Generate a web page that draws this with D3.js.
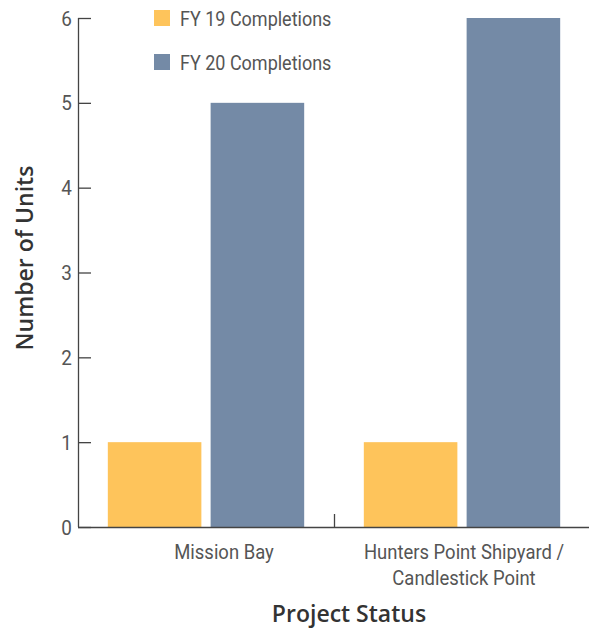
<!DOCTYPE html>
<html><head><meta charset="utf-8">
<script src="https://cdn.jsdelivr.net/npm/d3@7"></script>
<style>
body{margin:0;background:#fff;}
svg{display:block;}
</style></head>
<body><svg id="c" width="589" height="628"></svg>
<script>
const categories = ["Mission Bay", "Hunters Point Shipyard / Candlestick Point"];
const categoryLines = [["Mission Bay"], ["Hunters Point Shipyard /", "Candlestick Point"]];
const seriesNames = ["FY 19 Completions", "FY 20 Completions"];
const fy19 = [1, 1];
const fy20 = [5, 6];
const yTicks = [0, 1, 2, 3, 4, 5, 6];
const colors = ["#FEC45B", "#748AA6"];

const svg = d3.select("#c");
const SX = 0.9;
function condText(parent, x, y, txt, anchor, size) {
  return parent.append("text")
    .attr("transform", `translate(${x},${y}) scale(${SX},1)`)
    .attr("text-anchor", anchor || "start")
    .attr("font-family", "Roboto, sans-serif")
    .attr("font-size", size || 21)
    .attr("fill", "#555")
    .text(txt);
}

const x0 = d3.scaleBand().domain(categories).range([78, 590]).paddingInner(0).paddingOuter(0);
const x1 = d3.scaleBand().domain(seriesNames).range([0, x0.bandwidth()]).paddingInner(0.09).paddingOuter(0.29);
const y = d3.scaleLinear().domain([0, 6]).range([527, 18]);

// bars
const series = [fy19, fy20];
categories.forEach((c, ci) => {
  seriesNames.forEach((s, si) => {
    const v = series[si][ci];
    svg.append("rect")
      .attr("x", x0(c) + x1(s))
      .attr("y", y(v))
      .attr("width", x1.bandwidth())
      .attr("height", y(0) - y(v))
      .attr("fill", colors[si]);
  });
});

// y axis
const yAxis = d3.axisRight(y).tickValues(yTicks).tickSize(13).tickFormat("");
const ya = svg.append("g").attr("transform", "translate(78,0)").call(yAxis);
ya.select(".domain").attr("stroke", "#444").attr("stroke-width", 1.3).attr("d", `M0.5,${y(6)}V${y(0)}`);
ya.selectAll(".tick line").attr("stroke", "#444").attr("stroke-width", 1.3);
yTicks.forEach(d => condText(svg, 72, y(d) + 7.5, d, "end", 21));

// x axis baseline
svg.append("line").attr("x1", 78).attr("x2", 589).attr("y1", y(0) + 0.5).attr("y2", y(0) + 0.5)
  .attr("stroke", "#444").attr("stroke-width", 1.3);
// category separator tick
categories.slice(1).forEach(c => {
  svg.append("line").attr("x1", x0(c) + 0.5).attr("x2", x0(c) + 0.5).attr("y1", y(0)).attr("y2", y(0) - 13)
    .attr("stroke", "#444").attr("stroke-width", 1.3);
});

// category labels
const labelOffsets = [18, 2];
categories.forEach((c, ci) => {
  const cx = x0(c) + x0.bandwidth() / 2 + labelOffsets[ci];
  categoryLines[ci].forEach((l, li) => condText(svg, cx, 559 + li * 26, l, "middle", 20.5));
});

// axis titles
svg.append("text").attr("x", 349).attr("y", 621.5).attr("text-anchor", "middle")
  .attr("font-family", "'Open Sans',sans-serif").attr("font-weight", 600).attr("font-size", 23).attr("fill", "#333")
  .text("Project Status");
svg.append("text").attr("transform", "translate(33,258) rotate(-90)").attr("text-anchor", "middle")
  .attr("font-family", "'Open Sans',sans-serif").attr("font-weight", 600).attr("font-size", 23).attr("fill", "#333")
  .text("Number of Units");

// legend
seriesNames.forEach((s, i) => {
  const g = svg.append("g").attr("transform", `translate(154,${10 + i * 44})`);
  g.append("rect").attr("width", 16).attr("height", 16).attr("fill", colors[i]);
  condText(g, 26, 16, s, "start", 20);
});
</script></body></html>
